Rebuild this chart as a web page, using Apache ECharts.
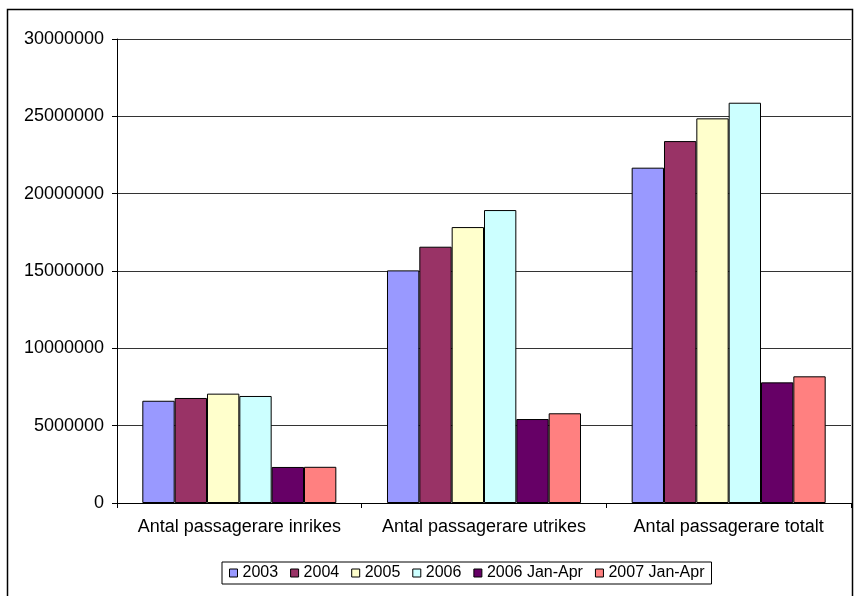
<!DOCTYPE html>
<html>
<head>
<meta charset="utf-8">
<script src="https://cdn.jsdelivr.net/npm/echarts@6/dist/echarts.min.js"></script>
<style>
  html, body { margin: 0; padding: 0; background: #fff; }
  #chart { width: 854px; height: 596px; }
</style>
</head>
<body>
<div id="chart"></div>
<script>
// Passenger counts per category and period
const categories = [
  'Antal passagerare inrikes',
  'Antal passagerare utrikes',
  'Antal passagerare totalt'
];
const seriesNames = ['2003', '2004', '2005', '2006', '2006 Jan-Apr', '2007 Jan-Apr'];
const values2003 = [6610000, 15040000, 21680000];
const values2004 = [6790000, 16570000, 23400000];
const values2005 = [7070000, 17840000, 24870000];
const values2006 = [6920000, 18940000, 25880000];
const values2006JanApr = [2330000, 5430000, 7800000];
const values2007JanApr = [2340000, 5800000, 8190000];
const yTicks = [0, 5000000, 10000000, 15000000, 20000000, 25000000, 30000000];

const seriesValues = [values2003, values2004, values2005, values2006, values2006JanApr, values2007JanApr];
const colors = ['#9999FF', '#993366', '#FFFFCC', '#CCFFFF', '#660066', '#FF8080'];
const font = '"Liberation Sans", Arial, sans-serif';

const chart = echarts.init(document.getElementById('chart'), null, { renderer: 'canvas' });

chart.setOption({
  animation: false,
  backgroundColor: '#fff',
  color: colors,
  textStyle: { fontFamily: font, color: '#000' },
  grid: { left: 117, right: 3, top: 39, bottom: 93, containLabel: false },
  graphic: [{
    type: 'rect',
    shape: { x: 7.5, y: 9.5, width: 845, height: 640 },
    style: { fill: 'none', stroke: '#000', lineWidth: 1.5 },
    silent: true,
    z: -1
  }],
  legend: {
    data: seriesNames,
    left: 222,
    top: 562,
    orient: 'horizontal',
    icon: 'rect',
    itemWidth: 8,
    itemHeight: 8,
    itemGap: 12,
    padding: [3, 7, 3, 7],
    borderColor: '#000',
    borderWidth: 1,
    borderRadius: 0,
    itemStyle: { borderColor: '#000', borderWidth: 1 },
    textStyle: { fontFamily: font, fontSize: 16, color: '#000' }
  },
  xAxis: {
    type: 'category',
    data: categories,
    boundaryGap: true,
    axisLine: { show: true, lineStyle: { color: '#000', width: 1 } },
    axisTick: { show: true, inside: false, length: 5, lineStyle: { color: '#000' } },
    axisLabel: { fontFamily: font, fontSize: 18, color: '#000', margin: 15, interval: 0 },
    splitLine: { show: false }
  },
  yAxis: {
    type: 'value',
    min: yTicks[0],
    max: yTicks[yTicks.length - 1],
    interval: yTicks[1] - yTicks[0],
    axisLine: { show: true, lineStyle: { color: '#000', width: 1 } },
    axisTick: { show: true, inside: false, length: 5, lineStyle: { color: '#000' } },
    axisLabel: {
      fontFamily: font, fontSize: 18, color: '#000', margin: 13,
      formatter: (v) => String(v)
    },
    splitLine: { show: true, lineStyle: { color: '#333', width: 1 } }
  },
  series: seriesNames.map((name, i) => ({
    name: name,
    type: 'bar',
    data: seriesValues[i],
    barGap: '0%',
    barCategoryGap: '20.7%',
    itemStyle: { color: colors[i], borderColor: '#000', borderWidth: 1 }
  }))
});
</script>
</body>
</html>
